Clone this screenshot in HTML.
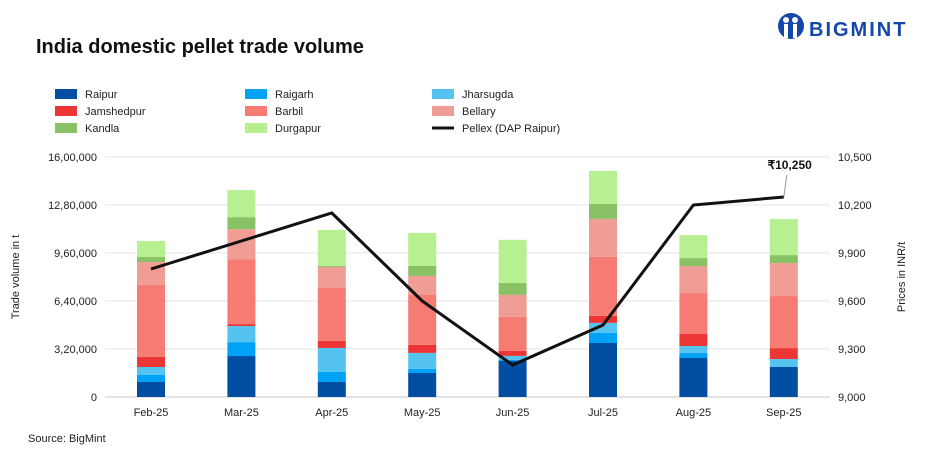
<!DOCTYPE html>
<html><head><meta charset="utf-8"><style>
body{margin:0;width:927px;height:468px;background:#fff;font-family:"Liberation Sans",sans-serif;overflow:hidden;position:relative}
.t{position:absolute;white-space:nowrap}
</style></head><body>
<div class="t" style="left:36px;top:36px;font-size:20px;font-weight:bold;color:#111">India domestic pellet trade volume</div>
<div style="position:absolute;left:775px;top:10px;width:140px;height:36px">
<svg width="40" height="36" style="position:absolute;left:0;top:0"><ellipse cx="16" cy="16" rx="13" ry="13" fill="#1447a8"/><circle cx="11" cy="10" r="3" fill="#fff"/><circle cx="20" cy="10" r="3" fill="#fff"/><rect x="9" y="14" width="4" height="14" fill="#fff"/><rect x="18" y="14" width="4" height="14" fill="#fff"/></svg>
<div class="t" style="left:34px;top:9px;font-size:20px;font-weight:bold;color:#1447a8;letter-spacing:2px">BIGMINT</div></div>
<svg id="c" width="927" height="468" style="position:absolute;left:0;top:0"></svg>
<div class="t" style="left:28px;top:433px;font-size:11px;color:#222">Source: BigMint</div>
<script>
const months=["Feb-25","Mar-25","Apr-25","May-25","Jun-25","Jul-25","Aug-25","Sep-25"];
const seriesNames=["Raipur","Raigarh","Jharsugda","Jamshedpur","Barbil","Bellary","Kandla","Durgapur"];
const colors=["#024ea2","#00a2f5","#55c3f0","#ec3636","#f67c73","#f09d96","#88c264","#b7f090"];
const raipur=[100000,273000,100000,160000,240000,360000,260000,200000];
const raigarh=[47000,93000,67000,27000,7000,67000,33000,0];
const jharsugda=[53000,107000,160000,107000,27000,67000,47000,53000];
const jamshedpur=[67000,13000,47000,53000,33000,47000,80000,73000];
const barbil=[480000,433000,353000,333000,227000,393000,273000,347000];
const bellary=[153000,200000,140000,127000,147000,253000,180000,220000];
const kandla=[33000,80000,7000,67000,80000,100000,53000,53000];
const durgapur=[107000,180000,240000,220000,287000,220000,153000,240000];
const pellex=[9800,9975,10150,9600,9200,9450,10200,10250];
const leftTicks=[0,320000,640000,960000,1280000,1600000];
const leftLabels=["0","3,20,000","6,40,000","9,60,000","12,80,000","16,00,000"];
const rightTicks=[9000,9300,9600,9900,10200,10500];
const rightLabels=["9,000","9,300","9,600","9,900","10,200","10,500"];
const series=[raipur,raigarh,jharsugda,jamshedpur,barbil,bellary,kandla,durgapur];
const NS="http://www.w3.org/2000/svg",svg=document.getElementById('c');
const y0=397,y1=157;
const yL=v=>y0-(v/1600000)*(y0-y1);
const yR=v=>y0-((v-9000)/1500)*(y0-y1);
const xC=i=>151+i*90.4;
function mk(t,a,txt){const e=document.createElementNS(NS,t);for(const k in a)e.setAttribute(k,a[k]);if(txt!==undefined)e.textContent=txt;svg.appendChild(e);return e;}
leftTicks.forEach((v,i)=>{
 const g=mk('line',{x1:105,x2:830,y1:yL(v),y2:yL(v),stroke:i?'#e6e6e6':'#c8c8c8','stroke-width':1});
 
 
 const t=mk('text',{x:97,y:yL(v)+4,'text-anchor':'end','font-size':11,fill:'#222'},leftLabels[i]);
 
 
});
rightTicks.forEach((v,i)=>{
 const t=mk('text',{x:838,y:yR(v)+4,'font-size':11,fill:'#222'},rightLabels[i]);
 
 
});
months.forEach((m,i)=>{
 let acc=0;
 series.forEach((s,k)=>{
  const yt=yL(acc+s[i]),yb=yL(acc);acc+=s[i];
  const r=mk('rect',{x:xC(i)-14,y:yt,width:28,height:Math.max(0,yb-yt),fill:colors[k]});
  
  
 });
 const t=mk('text',{x:xC(i),y:416,'text-anchor':'middle','font-size':11,fill:'#222'},m);
 
 
});
const pl=mk('polyline',{points:pellex.map((v,i)=>xC(i)+','+yR(v)).join(' '),fill:'none',stroke:'#111','stroke-width':3,'stroke-linejoin':'miter'});


const li=pellex.length-1;
const ll=mk('line',{x1:xC(li),y1:yR(pellex[li]),x2:xC(li)+3,y2:yR(pellex[li])-22,stroke:'#999','stroke-width':1});


const cl=mk('text',{x:xC(li)+28,y:yR(pellex[li])-28,'text-anchor':'end','font-size':12,'font-weight':'bold',fill:'#111'},'₹'+pellex[li].toLocaleString('en-US'));


const yt1=mk('text',{x:0,y:0,transform:'translate(19,277) rotate(-90)','text-anchor':'middle','font-size':11,fill:'#222'},'Trade volume in t');


const yt2=mk('text',{x:0,y:0,transform:'translate(905,277) rotate(-90)','text-anchor':'middle','font-size':11,fill:'#222'},'Prices in INR/t');


const legX=[55,245,432],legY=[95,112,129];
const legItems=seriesNames.map((n,k)=>({n,c:colors[k]})).concat([{n:'Pellex (DAP Raipur)',c:null}]);
legItems.forEach((it,j)=>{
 const x=legX[j%3],y=legY[Math.floor(j/3)];
 const g=document.createElementNS(NS,'g');svg.appendChild(g);
 
 
 let s;
 if(it.c){s=document.createElementNS(NS,'rect');s.setAttribute('x',x);s.setAttribute('y',y-6);s.setAttribute('width',22);s.setAttribute('height',10);s.setAttribute('fill',it.c);}
 else{s=document.createElementNS(NS,'line');s.setAttribute('x1',x);s.setAttribute('x2',x+22);s.setAttribute('y1',y-1);s.setAttribute('y2',y-1);s.setAttribute('stroke','#111');s.setAttribute('stroke-width',3);}
 g.appendChild(s);
 const t=document.createElementNS(NS,'text');t.setAttribute('x',x+30);t.setAttribute('y',y+3);t.setAttribute('font-size',11);t.setAttribute('fill','#222');t.textContent=it.n;g.appendChild(t);
});
</script>
</body></html>
